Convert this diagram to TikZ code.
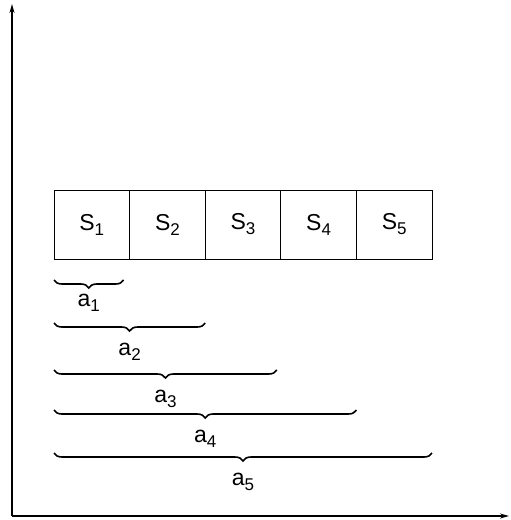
\documentclass[tikz,border=0pt]{standalone}
\usepackage{fontspec}
\setmainfont{Liberation Sans}
\usetikzlibrary{arrows.meta,positioning,decorations.pathreplacing,calc}

\newcommand\lowidx[1]{\raisebox{-5pt}{\fontsize{17}{20}\selectfont #1}}

\begin{document}
\begin{tikzpicture}[
    x=1pt, y=-1pt,
    every node/.style={font=\fontsize{23}{26}\selectfont},
    cell/.style={rectangle, draw=black, line width=1pt, minimum width=75.6pt, minimum height=69pt, inner sep=0pt, outer sep=0pt},
    axis/.style={draw=black, line width=1.3pt, -{Stealth[length=9pt,width=5pt]}},
    bracket/.style={draw=black, line width=1.6pt, decorate, decoration={brace, mirror, amplitude=8pt}},
    blabel/.style={inner sep=1pt}
]
\useasboundingbox (0,0) rectangle (511,520);

% axes
\coordinate (origin) at (12,516);
\coordinate (ytip) at (12,4);
\coordinate (xtip) at (509,516);
\draw [axis] (origin) -- (ytip);
\draw [axis] (origin) -- (xtip);

% row of stages
\node [cell] (s1) at (91.8,224.5) {S\lowidx{1}};
\node [cell, right=0pt of s1] (s2) {S\lowidx{2}};
\node [cell, right=0pt of s2] (s3) {S\lowidx{3}};
\node [cell, right=0pt of s3] (s4) {S\lowidx{4}};
\node [cell, right=0pt of s4] (s5) {S\lowidx{5}};

% cumulative braces
\foreach \i/\dy/\dx/\gap in {1/21/-6/12pt,2/64/0/18pt,3/111/-4/18pt,4/151/0/18pt,5/194/0/18pt}{
    \draw [bracket] ($(s1.south west)+(0,\dy)$) -- ($(s\i.south east)+(\dx,\dy)$)
        node [blabel, midway, below=\gap] (a\i) {a\lowidx{\i}};
}
\end{tikzpicture}
\end{document}
